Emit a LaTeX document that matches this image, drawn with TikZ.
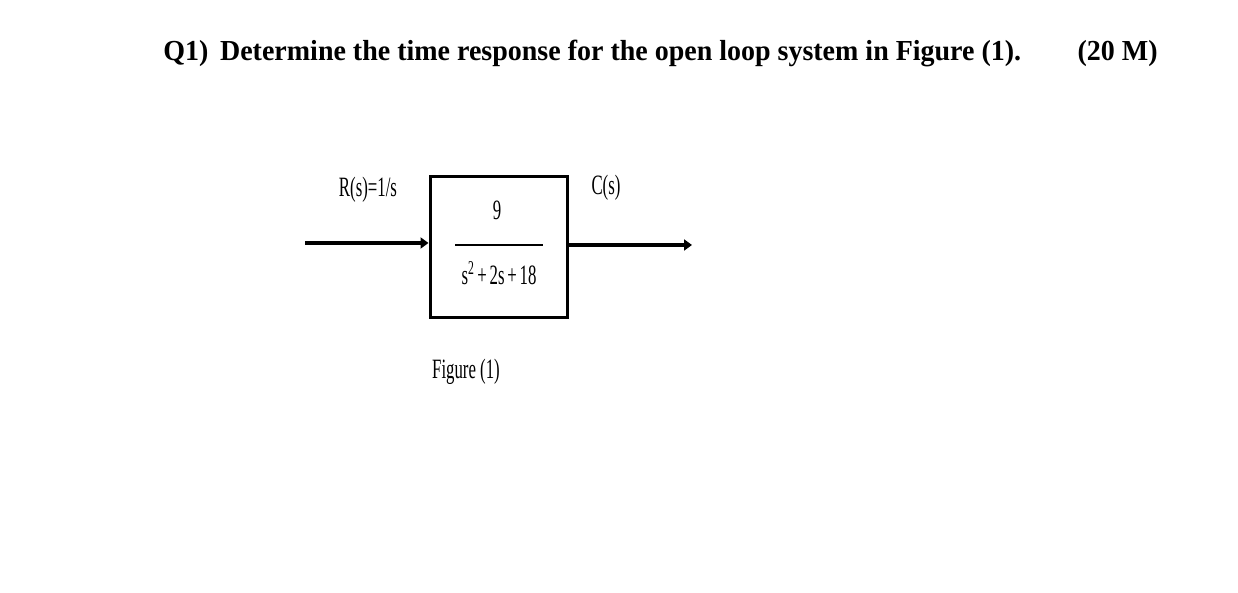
\documentclass[tikz,border=0pt]{standalone}
\usepackage{fontspec}
\setmainfont{Liberation Serif}
\usetikzlibrary{arrows.meta}
\begin{document}
\begin{tikzpicture}[x=0.5pt,y=-0.5pt,
  lbl/.style={inner sep=0pt, font=\fontsize{14}{16}\selectfont, xscale=0.6},
  head/.style={inner sep=0pt, font=\fontsize{14.5}{17}\selectfont\bfseries, xscale=0.965},
  sig/.style={line width=2.4pt, -{Triangle[length=4pt,width=5.5pt]}}]
\useasboundingbox[fill=white] (0,0) rectangle (1238,593);
\node[anchor=base west, head] (title) at (163,61) {Q1)\, Determine the time response for the open loop system in Figure (1).};
\node[anchor=base east, head] (marks) at (1158,61) {(20 M)};
\node[draw, line width=1.5pt, minimum width=68.5pt, minimum height=70.5pt] (G) at (498.5,247.5) {};
\node[lbl] (num) at (497,210) {9};
\node[lbl] (den) at (499,273) {s\textsuperscript{2}\,+\,2s\,+\,18};
\draw[line width=1.1pt] (455,245) coordinate (fl) -- (543,245) coordinate (fr);
\coordinate (in) at (305,243);
\coordinate (out) at (692,245);
\draw[sig] (in) -- (in -| G.west);
\draw[sig] (out -| G.east) -- (out);
\node[lbl] (R) at (368,190) {R(s)=1/s};
\node[lbl] (C) at (606,188) {C(s)};
\node[lbl] (fig) at (466,372) {Figure (1)};
\end{tikzpicture}
\end{document}
